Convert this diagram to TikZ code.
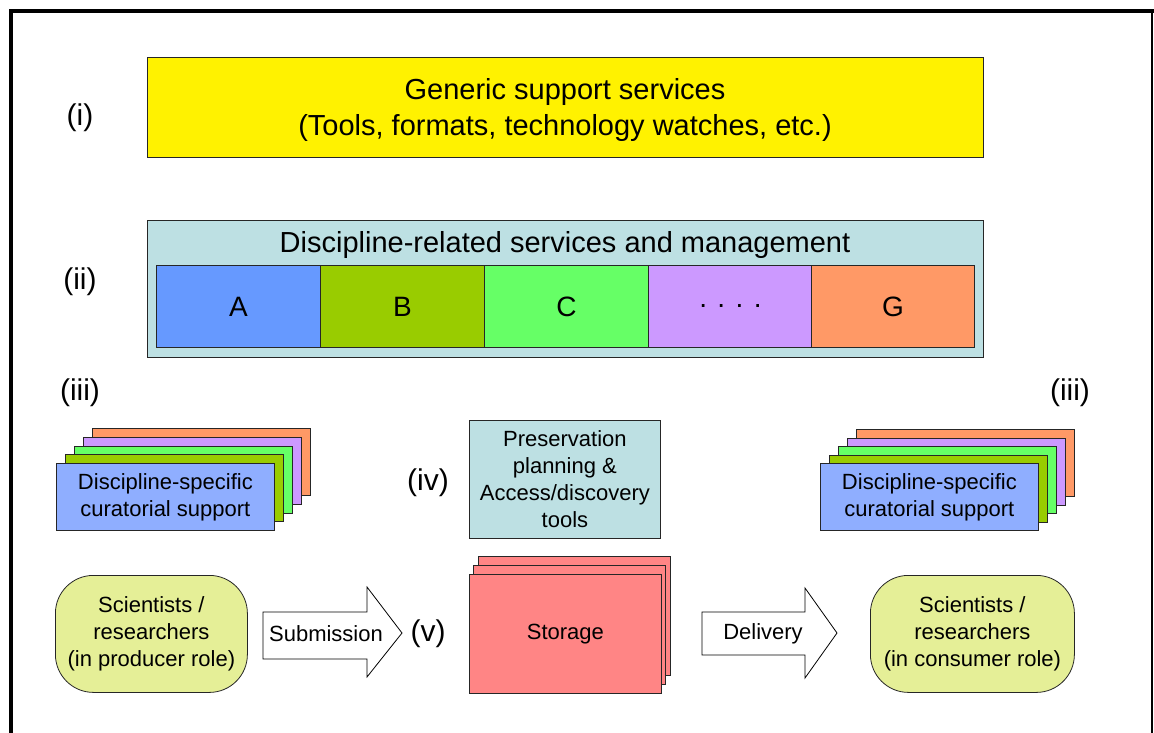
\documentclass[tikz,border=0pt]{standalone}
\usepackage{fontspec}
\setmainfont{Liberation Sans}
\definecolor{cA}{HTML}{6699FF}
\definecolor{cB}{HTML}{99CC00}
\definecolor{cC}{HTML}{66FF66}
\definecolor{cD}{HTML}{CC99FF}
\definecolor{cG}{HTML}{FF9966}
\definecolor{cFront}{HTML}{8FAEFF}
\definecolor{cTeal}{HTML}{BDE0E3}
\definecolor{cSci}{HTML}{E5EF97}
\definecolor{cStore}{HTML}{FF8585}
\begin{document}
\begin{tikzpicture}[x=1pt,y=-1pt,
  box/.style={draw=black!85, line width=0.8pt},
  big/.style={font=\fontsize{29}{36}\selectfont},
  mid/.style={font=\fontsize{22}{27}\selectfont},
  small/.style={font=\fontsize{22}{26}\selectfont},
  lbl/.style={font=\fontsize{30}{32}\selectfont},
  cell/.style={box, anchor=north west, minimum width=164pt, minimum height=82pt, inner sep=0pt, font=\fontsize{28}{30}\selectfont},
  card/.style={box, anchor=north west, minimum width=218pt, minimum height=67pt, inner sep=0pt, align=center, mid},
  blockarrow/.style={draw=black, line width=0.8pt, fill=white}
]
\useasboundingbox (0,0) rectangle (1154,733);
\fill[white] (0,0) rectangle (1154,733);
% frame
\draw[line width=4pt] (11,733) -- (11,11) -- (1154,11);
\draw[line width=1.5pt] (1152,11) -- (1152,733);

% (i)
\node[lbl] (li) at (80,118) {(i)};
\node[box, fill=yellow, anchor=north west, minimum width=836pt, minimum height=100pt, inner sep=0pt] (generic) at (147,57) {};
\node[align=center, big, inner sep=0pt] (generictext) at (565,110)
  {Generic support services\\(Tools, formats, technology watches, etc.)};

% (ii)
\node[lbl] (lii) at (80,282) {(ii)};
\node[box, fill=cTeal, anchor=north west, minimum width=836pt, minimum height=137pt, inner sep=0pt] (disc) at (147,220) {};
\node[big] (disctitle) at (565,245) {Discipline-related services and management};
\node[cell, fill=cA] (A) at (156,265) {A};
\node[cell, fill=cB] (B) at (320,265) {B};
\node[cell, fill=cC] (C) at (484,265) {C};
\node[cell, fill=cD] (D) at (648,265) {. . . .};
\node[cell, fill=cG, minimum width=163pt] (G) at (811,265) {G};

% (iii)
\node[lbl] (liiiL) at (80,393) {(iii)};
\node[lbl] (liiiR) at (1070,393) {(iii)};

% left card stack
\foreach \i/\c in {4/cG,3/cD,2/cC,1/cB}{
  \node[card, fill=\c] (cl\i) at ({56+9*\i},{463-8.75*\i}) {};
}
\node[card, fill=cFront] (curL) at (56,463) {Discipline-specific\\curatorial support};

% right card stack
\foreach \i/\c in {4/cG,3/cD,2/cC,1/cB}{
  \node[card, fill=\c] (cr\i) at ({820+9*\i},{463-8.5*\i}) {};
}
\node[card, fill=cFront] (curR) at (820,463) {Discipline-specific\\curatorial support};

% (iv)
\node[lbl] (liv) at (428,483) {(iv)};
\node[box, fill=cTeal, anchor=north west, minimum width=191pt, minimum height=118pt, inner sep=0pt, align=center, mid] (pres) at (469,420)
  {Preservation\\planning \&\\Access/discovery\\tools};

% storage stack
\node[box, fill=cStore, anchor=north west, minimum width=192pt, minimum height=119pt] (st2) at (478,556) {};
\node[box, fill=cStore, anchor=north west, minimum width=192pt, minimum height=119pt] (st1) at (473,565) {};
\node[box, fill=cStore, anchor=north west, minimum width=192pt, minimum height=119pt, mid] (storage) at (469,574) {Storage};

% scientists
\node[box, fill=cSci, rounded corners=38pt, anchor=north west, minimum width=192pt, minimum height=117pt, align=center, mid, inner sep=0pt] (sciL) at (55,575)
  {Scientists /\\researchers\\(in producer role)};
\node[box, fill=cSci, rounded corners=38pt, anchor=north west, minimum width=204pt, minimum height=117pt, align=center, mid, inner sep=0pt] (sciR) at (870,575)
  {Scientists /\\researchers\\(in consumer role)};

% block arrows
\draw[blockarrow] (263,612) -- (367,612) -- (367,587) -- (402,633) -- (367,677) -- (367,659) -- (263,659) -- cycle;
\node[small] (sub) at (326,634) {Submission};
\node[lbl] (lv) at (428,634) {(v)};
\draw[blockarrow] (702,612) -- (805,612) -- (805,588) -- (837,633) -- (805,678) -- (805,655) -- (702,655) -- cycle;
\node[small] (del) at (763,634) {Delivery};
\end{tikzpicture}
\end{document}
